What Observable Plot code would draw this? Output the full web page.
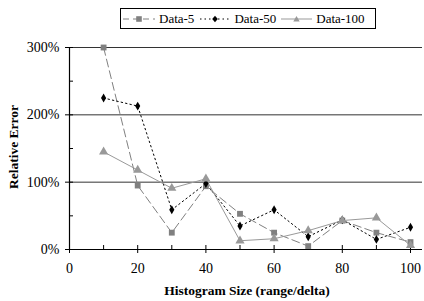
<!DOCTYPE html>
<html>
<head>
<meta charset="utf-8">
<script src="https://cdn.jsdelivr.net/npm/d3@7"></script>
<script src="https://cdn.jsdelivr.net/npm/@observablehq/plot@0.6"></script>
<style>
  body { margin: 0; background: #fff; font-family: 'Liberation Serif', serif; }
  #wrap { position: relative; width: 424px; height: 301px; font-family: 'Liberation Serif', serif; }
  #wrap svg text { font-family: 'Liberation Serif', serif; }
  #legend { position: absolute; left: 120px; top: 8px; width: 256px; height: 21px; border: 1px solid #000; box-sizing: border-box;
            display: flex; align-items: center; font-size: 13px; background: #fff; }
  #legend .item { display: flex; align-items: center; }
  #legend svg { display: block; }
  #ylab { position: absolute; left: 14px; top: 147px; transform: translate(-50%, -50%) rotate(-90deg); font-weight: bold; font-size: 13.5px; white-space: nowrap; }
  #xlab { position: absolute; left: 70px; width: 354px; top: 283px; text-align: center; font-weight: bold; font-size: 13.5px; }
</style>
</head>
<body>
<div id="wrap" style="font-family: 'Liberation Serif', serif;">
  <div id="chart"></div>
  <div id="legend" style="font-family: 'Liberation Serif', serif;"></div>
  <div id="ylab" style="font-family: 'Liberation Serif', serif;">Relative Error</div>
  <div id="xlab" style="font-family: 'Liberation Serif', serif;">Histogram Size (range/delta)</div>
</div>
<script>
const FONT = "Liberation Serif";
const sizes = [10, 20, 30, 40, 50, 60, 70, 80, 90, 100];
const data5   = [300, 95, 25, 94, 53, 25, 5, 43, 25, 11];
const data50  = [225, 213, 59, 98, 35, 59, 19, 44, 15, 33];
const data100 = [145, 118, 91, 105, 13, 16, 28, 43, 47, 6];
const seriesNames = ["Data-5", "Data-50", "Data-100"];
const xMajor = [0, 20, 40, 60, 80, 100];
const xMinor = [10, 30, 50, 70, 90];
const yMajor = [0, 100, 200, 300];
const yMinor = [50, 150, 250];

const styles = {
  "Data-5":   {stroke: "#808080", dash: "8,4", symbol: "square", fill: "#808080", r: 3.3},
  "Data-50":  {stroke: "#000000", dash: "1.5,3", symbol: "diamond", fill: "#000000", r: 2.7},
  "Data-100": {stroke: "#999999", dash: null, symbol: "triangle", fill: "#999999", r: 3.4}
};
const seriesValues = {"Data-5": data5, "Data-50": data50, "Data-100": data100};
const rows = seriesNames.map(name => sizes.map((x, i) => ({series: name, x, y: seriesValues[name][i]})));

const marks = [
  Plot.ruleY([100, 200, 300], {stroke: "#333", strokeWidth: 1}),
  Plot.ruleY([0], {stroke: "#000", strokeWidth: 1.2}),
  Plot.ruleX([0], {y1: 0, y2: 300, stroke: "#000", strokeWidth: 1.2}),
  Plot.ruleX(xMajor, {y1: 0, y2: 0, insetTop: -4, insetBottom: -4, stroke: "#000"}),
  Plot.ruleX(xMinor, {y1: 0, y2: 0, insetTop: -4, stroke: "#000"}),
  Plot.ruleY(yMajor, {x1: 0, x2: 0, insetLeft: -4, insetRight: -4, stroke: "#000"}),
  Plot.ruleY(yMinor, {x1: 0, x2: 0, insetRight: -4, stroke: "#000"}),
  Plot.axisX(xMajor, {tickSize: 0, tickPadding: 14, fontSize: 14, fontFamily: FONT, label: null}),
  Plot.axisY(yMajor, {tickSize: 0, tickPadding: 10, fontSize: 14, fontFamily: FONT, label: null, tickFormat: d => d + "%"})
];
for (const rs of rows) {
  const s = styles[rs[0].series];
  marks.push(Plot.line(rs, {x: "x", y: "y", stroke: s.stroke, strokeWidth: 1, strokeDasharray: s.dash}));
}
for (const rs of rows) {
  const s = styles[rs[0].series];
  marks.push(Plot.dot(rs, {x: "x", y: "y", symbol: s.symbol, fill: s.fill, stroke: "none", r: s.r}));
}

const chart = Plot.plot({
  width: 424,
  height: 301,
  marginLeft: 69,
  marginRight: 2,
  marginTop: 47,
  marginBottom: 52,
  style: {fontFamily: FONT, fontSize: "14px", color: "#000", background: "#fff"},
  x: {domain: [0, 100], range: [69, 410], axis: null},
  y: {domain: [0, 300], range: [249, 47], axis: null},
  marks
});
document.getElementById("chart").appendChild(chart);

// legend
const legend = document.getElementById("legend");
const symPaths = {
  square: "M-2.8,-2.8h5.6v5.6h-5.6z",
  diamond: "M0,-3.3L2.8,0L0,3.3L-2.8,0z",
  triangle: "M0,-3L3.2,2.5L-3.2,2.5z"
};
const sampleW = [34, 32, 33];
const gaps = [3, 5, 4];
seriesNames.forEach((name, i) => {
  const s = styles[name];
  const item = document.createElement("div");
  item.className = "item";
  item.style.marginLeft = (i === 0 ? 1 : gaps[i]) + "px";
  const w = sampleW[i];
  const dash = s.dash ? `stroke-dasharray="${name === 'Data-5' ? '6,4' : '1.5,3'}"` : "";
  item.innerHTML = `<svg width="${w}" height="12"><line x1="1" x2="${w - 1}" y1="6" y2="6" stroke="${s.stroke}" stroke-width="1" ${dash}/><path transform="translate(${w / 2},6)" d="${symPaths[s.symbol]}" fill="${s.fill}"/></svg><span style="margin-left:3px;font-family:'Liberation Serif',serif">${name}</span>`;
  legend.appendChild(item);
});
</script>
</body>
</html>
